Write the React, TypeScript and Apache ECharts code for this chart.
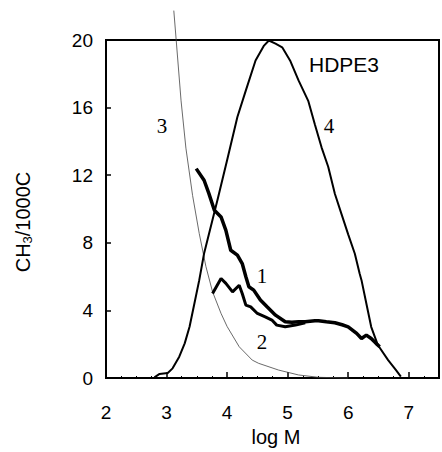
import React, { useEffect, useRef } from "react";
import * as echarts from "echarts";

// Curve 1 (thick)
const curve1: [number, number][] = [
  [3.49, 12.39], [3.62, 11.7], [3.7, 10.91], [3.79, 9.93], [3.9, 9.53], [3.98, 8.74],
  [4.06, 7.56], [4.17, 7.27], [4.25, 6.77], [4.31, 5.99], [4.36, 5.4], [4.44, 5.2],
  [4.55, 4.61], [4.66, 4.21], [4.8, 3.72], [4.96, 3.33], [5.07, 3.3], [5.18, 3.33],
  [5.29, 3.33], [5.45, 3.39], [5.51, 3.39], [5.64, 3.33], [5.78, 3.27], [5.9, 3.15],
  [6.0, 3.03], [6.14, 2.64], [6.22, 2.34], [6.3, 2.54], [6.38, 2.34], [6.46, 2.05], [6.52, 1.85],
];

// Curve 2 (thick)
const curve2: [number, number][] = [
  [3.76, 5.0], [3.9, 5.89], [3.98, 5.6], [4.09, 5.1], [4.2, 5.49], [4.25, 5.0],
  [4.31, 4.31], [4.39, 4.21], [4.5, 3.82], [4.63, 3.62], [4.74, 3.43], [4.82, 3.13],
  [4.96, 3.03], [5.13, 3.13], [5.29, 3.27],
];

// Curve 3 (thin)
const curve3: [number, number][] = [
  [3.12, 21.74], [3.16, 19.97], [3.24, 16.4], [3.32, 13.6], [3.43, 10.8], [3.54, 8.55],
  [3.65, 6.6], [3.76, 5.1], [3.9, 3.82], [4.0, 3.05], [4.2, 1.85], [4.415, 1.06],
  [4.52, 0.87], [4.85, 0.47], [5.18, 0.18], [5.51, 0.04], [6.0, 0.0],
];

// Curve 4 (medium)
const curve4: [number, number][] = [
  [2.8, 0.04], [2.885, 0.24], [3.02, 0.3], [3.1, 0.57], [3.21, 1.26], [3.3, 2.05],
  [3.38, 3.03], [3.46, 4.41], [3.54, 5.79], [3.62, 7.37], [3.84, 10.52], [4.0, 12.88],
  [4.17, 15.44], [4.31, 17.02], [4.47, 18.79], [4.61, 19.67], [4.69, 19.97], [4.8, 19.78],
  [4.91, 19.57], [5.04, 18.79], [5.18, 17.61], [5.34, 16.4], [5.45, 15.0], [5.56, 13.65],
  [5.67, 12.5], [5.78, 10.9], [5.89, 9.7], [6.0, 8.5], [6.11, 7.35], [6.19, 6.17],
  [6.22, 5.79], [6.3, 4.41], [6.38, 3.03], [6.49, 1.95], [6.66, 1.06], [6.79, 0.47], [6.87, 0.08],
];

const curveLabels = [
  { text: "3", x: 162, y: 126 },
  { text: "4", x: 329, y: 126 },
  { text: "1", x: 262, y: 276 },
  { text: "2", x: 262, y: 342 },
];

const SANS = "Liberation Sans, Arial, sans-serif";

export default function App() {
  const ref = useRef<HTMLDivElement>(null);
  useEffect(() => {
    if (!ref.current) return;
    const chart = echarts.init(ref.current, undefined, { renderer: "svg" });
    const lbl = { color: "#000", fontFamily: SANS, fontSize: 19 };
    chart.setOption({
      animation: false,
      backgroundColor: "#fff",
      grid: {
        left: 106, right: 1, top: 40, bottom: 74,
        show: true, borderColor: "#000", borderWidth: 2,
      },
      xAxis: {
        type: "value", min: 2, max: 7.5, interval: 1,
        axisLine: { show: true, onZero: false, lineStyle: { color: "#000", width: 2 } },
        axisTick: { show: true, inside: true, length: 6, lineStyle: { color: "#000", width: 1.5 } },
        minorTick: { show: true, splitNumber: 4, length: 2, lineStyle: { color: "#000" } },
        splitLine: { show: false },
        axisLabel: {
          ...lbl, margin: 25,
          formatter: (v: number) => (Number.isInteger(v) ? String(v) : ""),
        },
      },
      yAxis: {
        type: "value", min: 0, max: 20, interval: 4,
        axisLine: { show: true, lineStyle: { color: "#000", width: 2 } },
        axisTick: { show: true, inside: true, length: 5, lineStyle: { color: "#000", width: 1.5 } },
        splitLine: { show: false },
        axisLabel: { ...lbl, margin: 13 },
      },
      graphic: [
        {
          type: "text", x: 23, y: 222, rotation: Math.PI / 2,
          style: {
            text: "{a|CH}{s|3}{a|/1000C}",
            align: "center", verticalAlign: "middle", fill: "#000",
            rich: {
              a: { fontFamily: SANS, fontSize: 20, fill: "#000", color: "#000" },
              s: { fontFamily: SANS, fontSize: 13, fill: "#000", color: "#000", verticalAlign: "bottom", padding: [9, 0, 0, 0] },
            },
          },
        },
        {
          type: "text", x: 276, y: 437,
          style: { text: "log M", align: "center", verticalAlign: "middle", fontFamily: SANS, fontSize: 20, fill: "#000" },
        },
        {
          type: "text", x: 344, y: 64,
          style: { text: "HDPE3", align: "center", verticalAlign: "middle", fontFamily: SANS, fontSize: 21, fill: "#000" },
        },
        ...curveLabels.map((c) => ({
          type: "text", x: c.x, y: c.y,
          style: { text: c.text, align: "center", verticalAlign: "middle", fontFamily: "Liberation Serif, Times New Roman, serif", fontSize: 21, fill: "#000" },
        })),
      ],
      series: [
        { type: "line", data: curve3, showSymbol: false, clip: false, lineStyle: { color: "#444", width: 0.8 } },
        { type: "line", data: curve4, showSymbol: false, lineStyle: { color: "#000", width: 2 } },
        { type: "line", data: curve1, showSymbol: false, lineStyle: { color: "#000", width: 3.5 } },
        { type: "line", data: curve2, showSymbol: false, lineStyle: { color: "#000", width: 3 } },
      ],
    });
    return () => chart.dispose();
  }, []);
  return <div ref={ref} style={{ width: 442, height: 452, position: "absolute", left: 0, top: 0 }} />;
}
